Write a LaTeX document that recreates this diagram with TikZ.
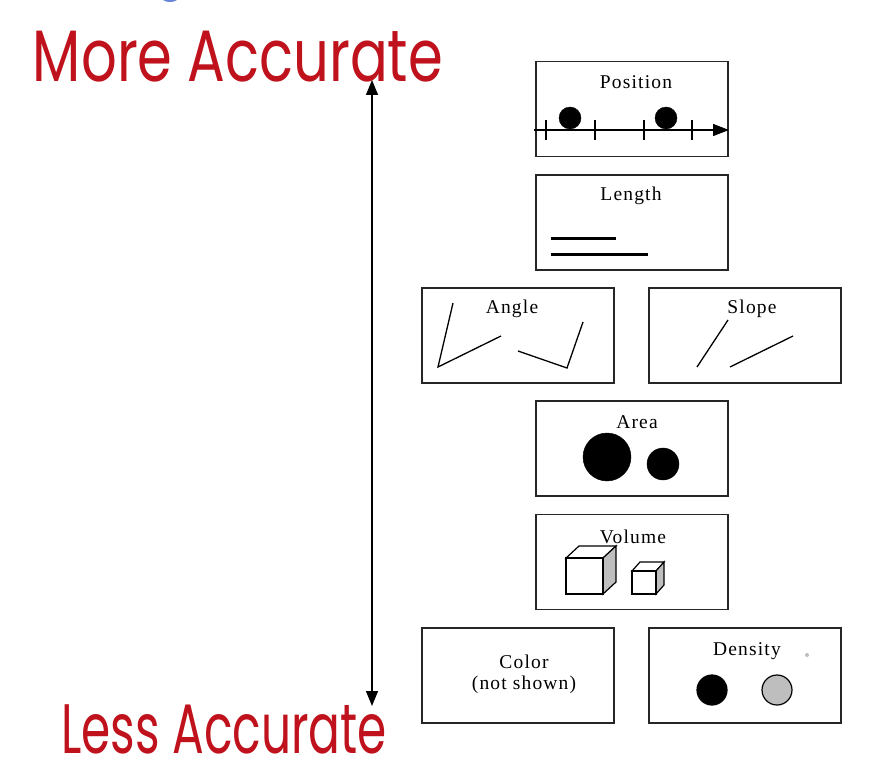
\documentclass[tikz,border=0pt]{standalone}
\usepackage{fontspec}
\setmainfont{Liberation Serif}
\newfontfamily\boxfont[LetterSpace=6]{Liberation Serif}
\newfontfamily\hand{Poppins}
\usetikzlibrary{arrows.meta}
\definecolor{hred}{RGB}{192,18,28}
\definecolor{lgray}{RGB}{190,190,190}
\definecolor{sblue}{RGB}{40,80,200}
\tikzset{
  box/.style={draw=black!85,line width=1.6pt,minimum width=192pt,minimum height=95pt,inner sep=0pt},
  ttl/.style={font=\boxfont\fontsize{19.5}{22}\selectfont,inner sep=0pt},
  thin/.style={line width=1.3pt},
  hw/.style={font=\hand\fontsize{56}{60}\selectfont,text=hred,anchor=base,inner sep=0pt},
  dot/.style={fill=black,draw=black}
}
\begin{document}
\begin{tikzpicture}[x=1pt,y=-1pt]
\useasboundingbox (0,0) rectangle (872,778);
\fill[white] (0,0) rectangle (872,778);
% partial blue mark at top edge
\fill[sblue!70] (170,-12) circle (14);

% handwritten labels
\node[hw,xscale=1.0,yscale=1.3] (more) at (238,82) {More Accurate};
\node[hw,xscale=0.84,yscale=1.25] (less) at (224,753) {Less Accurate};

% main arrow
\coordinate (atop) at (372,80);
\coordinate (abot) at (372,706);
\draw[line width=1.3pt,{Triangle[width=12pt,length=15pt]}-{Triangle[width=12pt,length=15pt]}] (atop) -- (abot);

% boxes
\node[box] (pos) at (632,109) {};
\node[box] (len) at (632,222.5) {};
\node[box] (ang) at (518,335.5) {};
\node[box] (slo) at (745,335.5) {};
\node[box] (are) at (632,448.5) {};
\node[box] (vol) at (632,562) {};
\node[box] (col) at (518,675.5) {};
\node[box] (den) at (745,675.5) {};

% titles
\node[ttl] (tpos) at (636,82) {Position};
\node[ttl] (tlen) at (631,196) {Length};
\node[ttl] (tang) at (512,309) {Angle};
\node[ttl] (tslo) at (752,309) {Slope};
\node[ttl] (tare) at (637,422) {Area};
\node[ttl] (tvol) at (633,537) {Volume};
\node[ttl,align=center,font=\boxfont\fontsize{19.5}{21}\selectfont] (tcol) at (524,674) {Color\\(not shown)};
\node[ttl] (tden) at (747,651) {Density};

% position axis
\coordinate (ax0) at (534,130);
\coordinate (ax1) at (729,130);
\draw[thin,-{Triangle[width=12pt,length=16pt]}] (ax0) -- (ax1);
\foreach \tx in {546,595,644,692} \draw[thin] (\tx,120) -- (\tx,140);
\fill[dot] (570,118) ellipse (11 and 11);
\draw[thin] (570,118) -- (570,130);
\fill[dot] (666,118) ellipse (11 and 11);
\draw[thin] (666,118) -- (666,130);

% length lines
\draw[line width=3pt] (551,238) -- (616,238);
\draw[line width=3pt] (551,254) -- (648,254);

% angle
\draw[thin] (453,303) -- (438,367) -- (501,336);
\draw[thin] (583,322) -- (567,368) -- (518,351);

% slope
\draw[thin] (728,320) -- (697,367);
\draw[thin] (730,367) -- (793,336);

% area
\fill[dot] (607,457) circle (24);
\fill[dot] (663,464) circle (16);

% volume cubes
\draw[line width=1.2pt,fill=white] (566,558) -- (579,546) -- (616,546) -- (603,558) -- cycle;
\draw[line width=1.2pt,fill=lgray] (603,558) -- (616,546) -- (616,582) -- (603,594) -- cycle;
\draw[line width=1.2pt,fill=white] (566,558) rectangle (603,594);
\draw[line width=1.2pt,fill=white] (632,571) -- (640,562) -- (664,562) -- (656,571) -- cycle;
\draw[line width=1.2pt,fill=lgray] (656,571) -- (664,562) -- (664,585) -- (656,594) -- cycle;
\draw[line width=1.2pt,fill=white] (632,571) rectangle (656,594);

% density
\draw[line width=1.2pt,fill=black] (712,690) circle (15);
\draw[line width=1.2pt,fill=lgray] (777,690) circle (15);
\fill[lgray] (807,655) circle (2);
\end{tikzpicture}
\end{document}
